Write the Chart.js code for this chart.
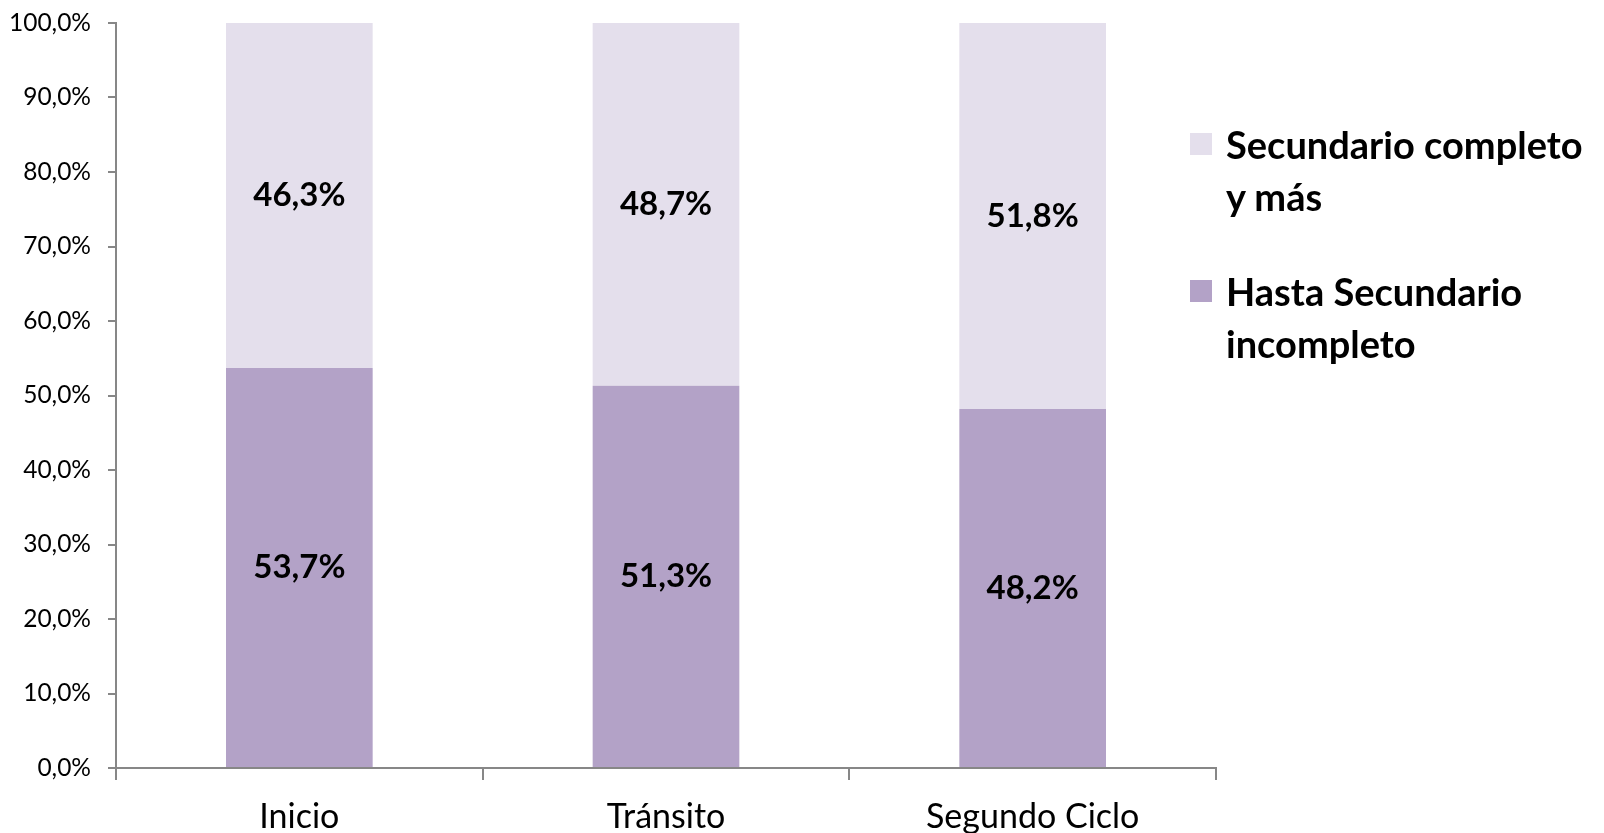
<!DOCTYPE html>
<html>
<head>
<meta charset="utf-8">
<script src="https://cdn.jsdelivr.net/npm/chart.js@4/dist/chart.umd.min.js"></script>
<style>
  html, body { margin: 0; padding: 0; background: #fff; }
  #wrap { position: relative; width: 1604px; height: 833px; overflow: hidden; }
  #legend { position: absolute; left: 1190px; top: 118px; width: 414px; font-family: Lato, sans-serif; font-weight: bold; font-size: 38px; line-height: 52px; color: #000; }
  .item { display: flex; align-items: flex-start; margin-bottom: 43px; }
  .box { flex: none; width: 22px; height: 22px; margin-top: 15px; margin-right: 14px; }
  .txt { flex: none; width: 372px; }
</style>
</head>
<body>
<div id="wrap">
  <canvas id="myChart" width="1604" height="833"></canvas>
  <div id="legend"></div>
</div>
<script>
'use strict';

// data
let categories = ['Inicio', 'Tránsito', 'Segundo Ciclo'];
let hastaIncompleto = [53.7, 51.3, 48.2];
let secundarioCompleto = [46.3, 48.7, 51.8];
let seriesNames = ['Hasta Secundario incompleto', 'Secundario completo y más'];
let yTicks = [0, 10, 20, 30, 40, 50, 60, 70, 80, 90, 100];

let seriesColors = ['#B3A2C7', '#E4DFEC'];
let axisColor = '#878787';

function pct(v) {
  return v.toFixed(1).replace('.', ',') + '%';
}

// draws the value in the middle of each bar piece
let barLabels = {
  id: 'barLabels',
  afterDatasetsDraw(chart) {
    let ctx = chart.ctx;
    ctx.save();
    ctx.font = 'bold 33px Lato';
    ctx.fillStyle = '#000';
    ctx.textAlign = 'center';
    ctx.textBaseline = 'middle';
    chart.data.datasets.forEach(function (ds, i) {
      chart.getDatasetMeta(i).data.forEach(function (bar, j) {
        let p = bar.getProps(['x', 'y', 'base'], true);
        ctx.fillText(pct(ds.data[j]), p.x, (p.y + p.base) / 2);
      });
    });
    ctx.restore();
  }
};

const ctx = document.getElementById('myChart').getContext('2d');

let myChart = new Chart(ctx, {
  type: 'bar',
  data: {
    labels: categories,
    datasets: [
      { label: seriesNames[0], data: hastaIncompleto, backgroundColor: seriesColors[0], barPercentage: 0.4, categoryPercentage: 1 },
      { label: seriesNames[1], data: secundarioCompleto, backgroundColor: seriesColors[1], barPercentage: 0.4, categoryPercentage: 1 }
    ]
  },
  options: {
    responsive: false,
    animation: false,
    layout: { padding: { left: 0, right: 388, top: 23, bottom: 0 } },
    plugins: {
      legend: { display: false },
      tooltip: { enabled: false }
    },
    scales: {
      x: {
        stacked: true,
        afterFit(scale) { scale.height = 65; },
        grid: { offset: true, drawOnChartArea: false, color: axisColor, lineWidth: 2, tickLength: 12 },
        border: { color: axisColor, width: 2 },
        ticks: { color: '#000', padding: 17, font: { family: 'Lato', size: 34 } }
      },
      y: {
        stacked: true,
        min: 0,
        max: 100,
        afterFit(scale) {
          scale.width = 116;
          scale.paddingTop = 0;
          scale.paddingBottom = 0;
        },
        afterBuildTicks(scale) { scale.ticks = yTicks.map(function (v) { return { value: v }; }); },
        grid: { drawOnChartArea: false, color: axisColor, lineWidth: 2, tickLength: 8 },
        border: { color: axisColor, width: 2 },
        ticks: {
          color: '#000',
          padding: 17,
          font: { family: 'Lato', size: 24.5 },
          callback: function (v) { return pct(v); }
        }
      }
    }
  },
  plugins: [barLabels]
});

// html legend, top series first like the original
let legendBox = document.getElementById('legend');
myChart.data.datasets.slice().reverse().forEach(function (ds) {
  let item = document.createElement('div');
  item.className = 'item';
  let box = document.createElement('span');
  box.className = 'box';
  box.style.background = ds.backgroundColor;
  let text = document.createElement('span');
  text.className = 'txt';
  text.textContent = ds.label;
  item.appendChild(box);
  item.appendChild(text);
  legendBox.appendChild(item);
});
</script>
</body>
</html>
